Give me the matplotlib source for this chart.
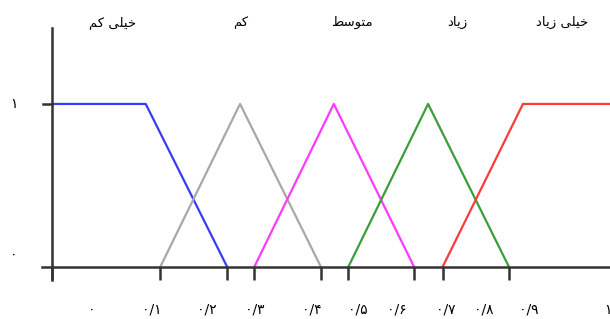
import matplotlib.pyplot as plt

# Persian labels, pre-shaped (presentation forms, visual order) since matplotlib has no Arabic shaping
# خیلی کم / کم / متوسط / زیاد / خیلی زیاد
categories = ['\uFEE2\uFB90 \uFBFD\uFEE0\uFBFF\uFEA7',
              '\uFEE2\uFB90',
              '\uFEC2\uFEB3\uFEEE\uFE98\uFEE3',
              '\uFEA9\uFE8E\uFBFE\uFEAF',
              '\uFEA9\uFE8E\uFBFE\uFEAF \uFBFD\uFEE0\uFBFF\uFEA7']

# membership function breakpoints
mf_x = [[0.0, 0.168, 0.314],
        [0.194, 0.337, 0.482],
        [0.3625, 0.505, 0.649],
        [0.531, 0.674, 0.819],
        [0.700, 0.844, 1.0]]
mf_y = [[1, 1, 0],
        [0, 1, 0],
        [0, 1, 0],
        [0, 1, 0],
        [0, 1, 1]]
colors = ['#3a3aff', '#a8a8a8', '#ff3aff', '#3a9e3a', '#ff3a3a']

ticks = [0.0, 0.194, 0.314, 0.3625, 0.482, 0.531, 0.649, 0.700, 0.819]
tick_labels = ['\u06F0', '\u06F0/\u06F1', '\u06F0/\u06F2', '\u06F0/\u06F3', '\u06F0/\u06F4',
               '\u06F0/\u06F5', '\u06F0/\u06F6', '\u06F0/\u06F7', '\u06F0/\u06F8', '\u06F0/\u06F9', '\u06F1']
label_pos = [0.071, 0.179, 0.278, 0.364, 0.466, 0.548, 0.618, 0.706, 0.774, 0.855, 0.996]
cat_pos = [0.108, 0.339, 0.538, 0.726, 0.914]

fig = plt.figure(figsize=(6.10, 3.19), dpi=100)
ax = fig.add_axes([52 / 610, 39 / 319, 558 / 610, 252 / 319])
ax.set_xlim(0, 1)
ax.set_ylim(-0.08, 1.466)
ax.axis('off')

axis_c = '#333333'
ax.plot([-0.018, 1.0], [0, 0], color=axis_c, lw=1.8, clip_on=False, zorder=3)
ax.plot([0, 0], [-0.08, 1.466], color=axis_c, lw=1.8, clip_on=False, zorder=3)
ax.vlines(ticks, -0.08, 0, color=axis_c, lw=1.8, clip_on=False, zorder=3)
ax.plot([-0.016, 0], [1, 1], color=axis_c, lw=1.8, clip_on=False, zorder=3)

for xs, ys, c in zip(mf_x, mf_y, colors):
    ax.plot(xs, ys, color=c, lw=1.6, clip_on=False, zorder=2)

for p, t in zip(label_pos, tick_labels):
    ax.text(p, -0.264, t, ha='center', va='center', fontsize=10, family='DejaVu Sans')
for p, t in zip(cat_pos, categories):
    ax.text(p, 1.5, t, ha='center', va='center', fontsize=9.5, family='DejaVu Sans')

ax.text(-0.068, 1.0, '\u06F1', ha='center', va='center', fontsize=10)
ax.text(-0.068, 0.074, '\u06F0', ha='center', va='center', fontsize=10)

fig.savefig('out.png', dpi=100)
